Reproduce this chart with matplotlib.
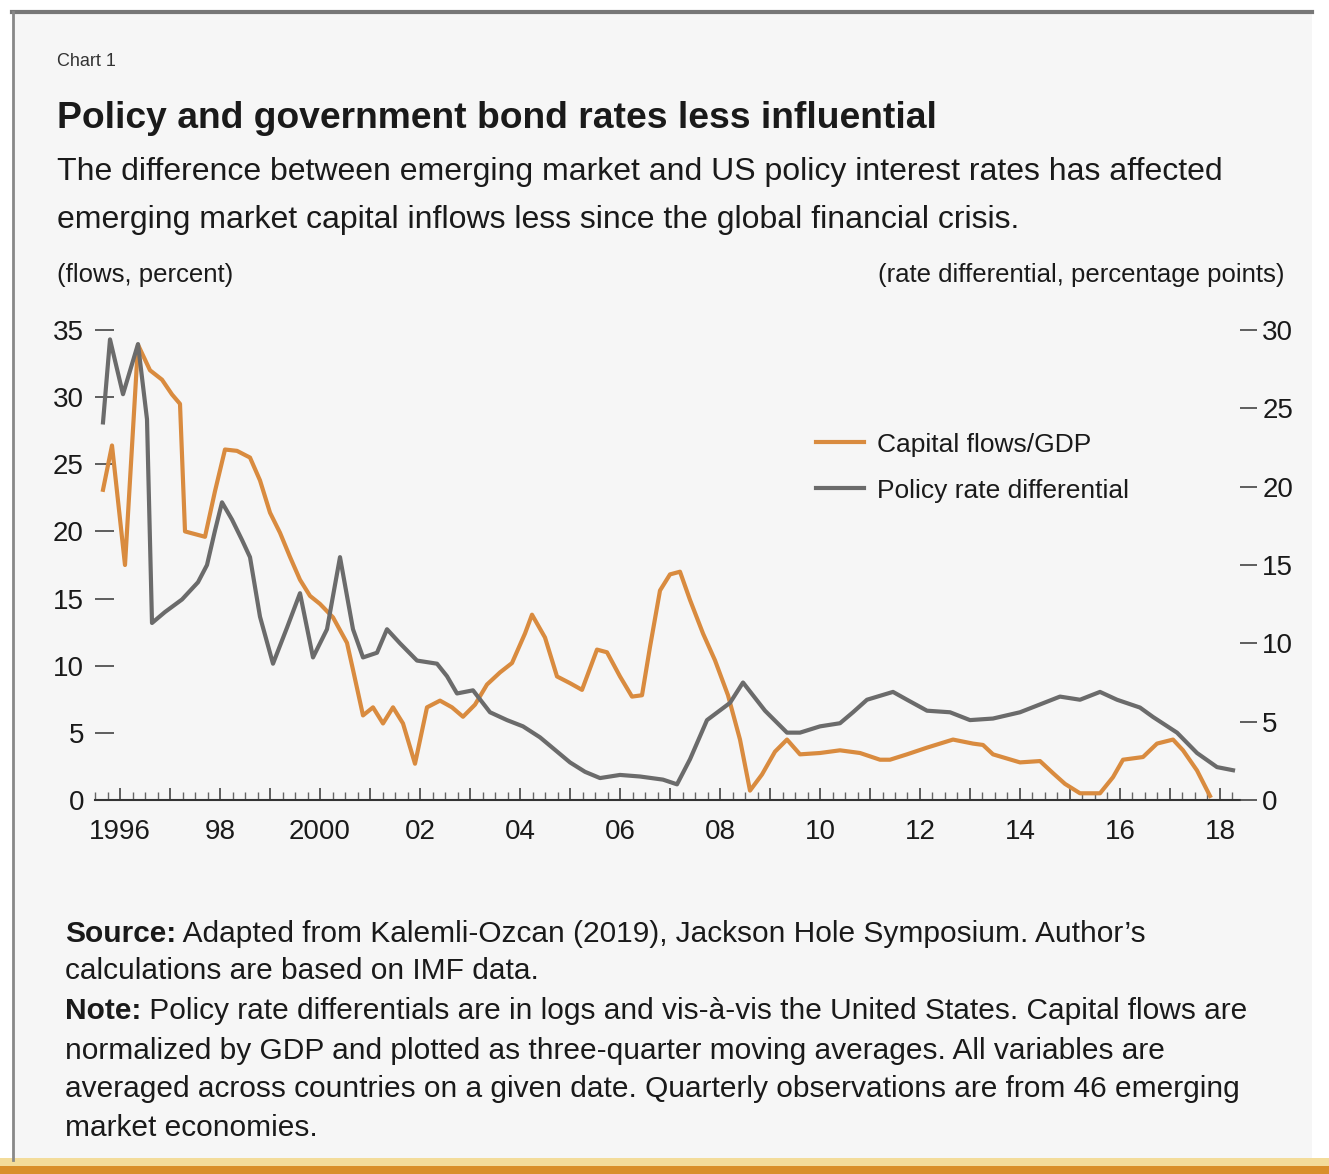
import matplotlib
matplotlib.use("Agg")
import matplotlib.pyplot as plt
from matplotlib.patches import Rectangle
from matplotlib.lines import Line2D

# Data
flow_years = [1995.66, 1995.84, 1996.10, 1996.36, 1996.60, 1996.84, 1997.04, 1997.20, 1997.30,
              1997.50, 1997.70, 1997.90, 1998.10, 1998.34, 1998.60, 1998.80, 1999.00, 1999.20,
              1999.40, 1999.60, 1999.80, 2000.00, 2000.26, 2000.54, 2000.66, 2000.86, 2001.06,
              2001.26, 2001.46, 2001.66, 2001.90, 2002.14, 2002.40, 2002.64, 2002.86, 2003.10,
              2003.34, 2003.60, 2003.84, 2004.10, 2004.24, 2004.50, 2004.74, 2005.00, 2005.24,
              2005.54, 2005.74, 2006.00, 2006.24, 2006.44, 2006.60, 2006.80, 2007.00, 2007.20,
              2007.40, 2007.66, 2007.90, 2008.16, 2008.40, 2008.60, 2008.84, 2009.10, 2009.34,
              2009.60, 2010.00, 2010.40, 2010.80, 2011.20, 2011.40, 2011.74, 2012.14, 2012.66,
              2013.06, 2013.26, 2013.46, 2014.00, 2014.40, 2014.66, 2014.90, 2015.20, 2015.60,
              2015.86, 2016.06, 2016.46, 2016.74, 2017.06, 2017.26, 2017.54, 2017.80]
capital_flows = [23.1, 26.4, 17.5, 33.9, 32.0, 31.3, 30.2, 29.5, 20.0,
                 19.8, 19.6, 23.0, 26.1, 26.0, 25.5, 23.8, 21.4, 19.9,
                 18.1, 16.4, 15.2, 14.6, 13.6, 11.7, 9.7, 6.3, 6.9,
                 5.7, 6.9, 5.7, 2.7, 6.9, 7.4, 6.9, 6.2, 7.1,
                 8.6, 9.5, 10.2, 12.4, 13.8, 12.1, 9.2, 8.7, 8.2,
                 11.2, 11.0, 9.2, 7.7, 7.8, 11.4, 15.6, 16.8, 17.0,
                 14.9, 12.4, 10.4, 7.8, 4.5, 0.7, 1.9, 3.6, 4.5,
                 3.4, 3.5, 3.7, 3.5, 3.0, 3.0, 3.4, 3.9, 4.5,
                 4.2, 4.1, 3.4, 2.8, 2.9, 2.0, 1.2, 0.5, 0.5,
                 1.7, 3.0, 3.2, 4.2, 4.5, 3.7, 2.2, 0.3]

rate_years = [1995.66, 1995.80, 1996.06, 1996.36, 1996.54, 1996.64, 1996.90, 1997.24, 1997.56,
              1997.74, 1997.90, 1998.04, 1998.24, 1998.44, 1998.60, 1998.80, 1999.06, 1999.34,
              1999.60, 1999.86, 2000.14, 2000.40, 2000.66, 2000.86, 2001.14, 2001.34, 2001.60,
              2001.94, 2002.34, 2002.54, 2002.74, 2003.06, 2003.40, 2003.74, 2004.06, 2004.40,
              2004.70, 2005.00, 2005.30, 2005.60, 2006.00, 2006.40, 2006.86, 2007.14, 2007.40,
              2007.74, 2008.20, 2008.46, 2008.90, 2009.34, 2009.60, 2010.00, 2010.40, 2010.66,
              2010.94, 2011.46, 2011.74, 2012.14, 2012.60, 2013.00, 2013.46, 2014.00, 2014.40,
              2014.80, 2015.20, 2015.60, 2015.94, 2016.40, 2016.66, 2017.14, 2017.54, 2017.94,
              2018.26]
rate_diff = [24.1, 29.4, 25.9, 29.1, 24.3, 11.3, 12.0, 12.8, 13.9,
             15.0, 17.2, 19.0, 17.9, 16.6, 15.5, 11.7, 8.7, 11.0,
             13.2, 9.1, 10.9, 15.5, 10.9, 9.1, 9.4, 10.9, 10.0,
             8.9, 8.7, 7.9, 6.8, 7.0, 5.6, 5.1, 4.7, 4.0,
             3.2, 2.4, 1.8, 1.4, 1.6, 1.5, 1.3, 1.0, 2.6,
             5.1, 6.2, 7.5, 5.7, 4.3, 4.3, 4.7, 4.9, 5.6,
             6.4, 6.9, 6.4, 5.7, 5.6, 5.1, 5.2, 5.6, 6.1,
             6.6, 6.4, 6.9, 6.4, 5.9, 5.3, 4.3, 3.0, 2.1,
             1.9]

label_years = list(range(1996, 2019))
year_labels = ['1996', '', '98', '', '2000', '', '02', '', '04', '', '06', '', '08', '',
               '10', '', '12', '', '14', '', '16', '', '18']
left_ticks = [0, 5, 10, 15, 20, 25, 30, 35]
right_ticks = [0, 5, 10, 15, 20, 25, 30]

ORANGE = '#d98b3f'
GREY = '#6b6b6b'
TXT = '#1a1a1a'
plt.rcParams['font.family'] = ['Liberation Sans', 'DejaVu Sans']

W, H = 1329, 1174
fig = plt.figure(figsize=(W / 100, H / 100), dpi=100)
fig.patch.set_facecolor('white')

# page frame
fig.add_artist(Rectangle((14 / W, 1 - 1160 / H), 1298 / W, 1146 / H, transform=fig.transFigure,
                         facecolor='#f6f6f6', edgecolor='none', zorder=-5))
fig.add_artist(Line2D([12 / W, 1312 / W], [1 - 12 / H, 1 - 12 / H], transform=fig.transFigure,
                      color='#777777', lw=3))
fig.add_artist(Line2D([13 / W, 13 / W], [1 - 12 / H, 1 - 1160 / H], transform=fig.transFigure,
                      color='#888888', lw=2))
fig.add_artist(Rectangle((0, 0), 1, 8 / H, transform=fig.transFigure,
                         facecolor='#d98f2a', edgecolor='none'))
fig.add_artist(Rectangle((0, 8 / H), 1, 8 / H, transform=fig.transFigure,
                         facecolor='#f3dc9a', edgecolor='none'))

ax = fig.add_axes([95 / W, 1 - 800 / H, (1240 - 95) / W, (800 - 330) / H])
ax.set_facecolor('none')
ax2 = ax.twinx()

l1, = ax.plot(flow_years, capital_flows, color=ORANGE, lw=3, label='Capital flows/GDP',
              solid_joinstyle='round')
l2, = ax2.plot(rate_years, rate_diff, color=GREY, lw=3, label='Policy rate differential',
               solid_joinstyle='round')

ax.set_xlim(1995.5, 2018.4)
ax.set_ylim(0, 35)
ax2.set_ylim(0, 30)

for a in (ax, ax2):
    for s in ('top', 'left', 'right', 'bottom'):
        a.spines[s].set_visible(False)
ax.spines['bottom'].set_visible(True)
ax.spines['bottom'].set_color('#333333')
ax.spines['bottom'].set_linewidth(1.5)

ax.set_xticks(label_years)
ax.set_xticklabels(year_labels)
ax.set_xticks([y + q / 4 for y in range(1995, 2019) for q in range(4)
               if 1995.5 <= y + q / 4 <= 2018.4], minor=True)
ax.tick_params(axis='x', which='major', direction='in', length=9, width=1.2, color='#444444',
               labelsize=20, pad=14, labelcolor=TXT)
ax.tick_params(axis='x', which='minor', direction='in', length=6, width=1.0, color='#666666')

ax.set_yticks(left_ticks)
ax.tick_params(axis='y', direction='in', length=14, width=1.2, color='#444444', labelsize=20,
               pad=8, labelcolor=TXT)
ax2.set_yticks(right_ticks)
ax2.tick_params(axis='y', direction='out', length=12, width=1.2, color='#444444', labelsize=20,
                pad=4, labelcolor=TXT)

leg = ax.legend(handles=[l1, l2], loc='upper left', bbox_to_anchor=(0.609, 0.832), frameon=False,
                fontsize=19, handlelength=1.8, handletextpad=0.5, labelspacing=0.83)
for t in leg.get_texts():
    t.set_color(TXT)

# text
fig.text(57 / W, 1 - 62 / H, 'Chart 1', fontsize=13, va='center', color='#333333')
fig.text(57 / W, 1 - 118 / H, 'Policy and government bond rates less influential',
         fontsize=26.8, fontweight='bold', va='center', color=TXT)
fig.text(57 / W, 1 - 172 / H,
         'The difference between emerging market and US policy interest rates has affected',
         fontsize=23, va='center', color=TXT)
fig.text(57 / W, 1 - 220 / H,
         'emerging market capital inflows less since the global financial crisis.',
         fontsize=23, va='center', color=TXT)
fig.text(57 / W, 1 - 275 / H, '(flows, percent)', fontsize=18.5, va='center', color=TXT)
fig.text(1285 / W, 1 - 275 / H, '(rate differential, percentage points)', fontsize=18.5,
         va='center', ha='right', color=TXT)

note_lines = [
    ('Source:', ' Adapted from Kalemli-Ozcan (2019), Jackson Hole Symposium. Author\u2019s'),
    ('', 'calculations are based on IMF data.'),
    ('Note:', ' Policy rate differentials are in logs and vis-\u00e0-vis the United States. Capital flows are'),
    ('', 'normalized by GDP and plotted as three-quarter moving averages. All variables are'),
    ('', 'averaged across countries on a given date. Quarterly observations are from 46 emerging'),
    ('', 'market economies.'),
]
note_y = [942, 979, 1019, 1059, 1097, 1136]
for (bold, rest), yy in zip(note_lines, note_y):
    t = fig.text(65 / W, 1 - yy / H, bold, fontsize=21.5, fontweight='bold', va='baseline',
                 color=TXT)
    if bold:
        ax.annotate(rest, xy=(1, 0), xycoords=t, va='bottom', ha='left', fontsize=21.5,
                    color=TXT, annotation_clip=False)
    else:
        t.set_text(rest)
        t.set_fontweight('normal')

fig.savefig('out.png', dpi=100, facecolor=fig.get_facecolor())
